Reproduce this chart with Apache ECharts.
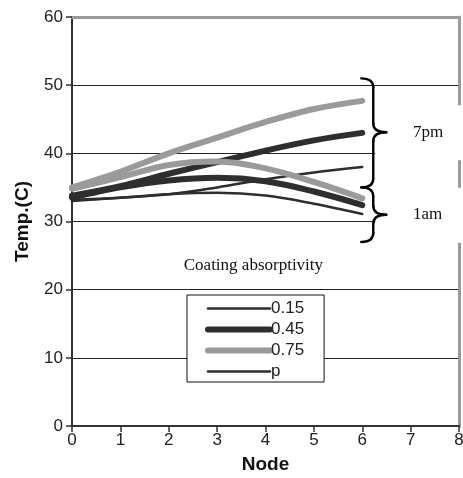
<!DOCTYPE html>
<html>
<head>
<meta charset="utf-8">
<script src="https://cdn.jsdelivr.net/npm/echarts@6/dist/echarts.min.js"></script>
<style>
  html, body { margin: 0; padding: 0; background: #fff; }
  #main { width: 463px; height: 478px; }
</style>
</head>
<body>
<div id="main"></div>
<script>
// node positions along the x axis
let nodes = [0, 1, 2, 3, 4, 5, 6];
let xTicks = [0, 1, 2, 3, 4, 5, 6, 7, 8];
let yTicks = [0, 10, 20, 30, 40, 50, 60];

// 7pm curves
let pm015 = [33.2, 33.5, 34.0, 35.0, 36.2, 37.2, 38.0];
let pm045 = [33.8, 35.2, 37.0, 38.7, 40.4, 41.9, 43.0];
let pm075 = [35.0, 37.3, 40.0, 42.3, 44.6, 46.5, 47.7];
// 1am curves
let am015 = [33.0, 33.5, 34.0, 34.2, 33.8, 32.6, 31.1];
let am045 = [33.5, 35.0, 36.0, 36.4, 35.9, 34.4, 32.4];
let am075 = [34.8, 36.5, 38.3, 38.8, 37.8, 35.8, 33.4];

let legendNames = ['0.15', '0.45', '0.75', 'p'];
let legendWidths = [2.5, 6, 6, 2.5];

// braces: [label, top, tip, bottom] in temperature units, drawn at node 6
let braces = [
    ['7pm', 51.0, 43.1, 35.0],
    ['1am', 35.0, 31.0, 27.0]
];

const DARK = '#2e2e2e';
const GRAY = '#9a9a9a';

function pairs(ys) {
    return nodes.map(function (x, i) { return [x, ys[i]]; });
}

function lineSeries(name, ys, color, width) {
    return {
        name: name,
        type: 'line',
        data: ys ? pairs(ys) : [],
        smooth: 0.35,
        symbol: 'none',
        showSymbol: false,
        silent: true,
        lineStyle: { color: color, width: width, cap: 'round', join: 'round' },
        itemStyle: { color: color }
    };
}

let chart = echarts.init(document.getElementById('main'));

let option = {
    animation: false,
    backgroundColor: '#fff',
    grid: { left: 72, right: 4, top: 17, bottom: 52, containLabel: false, outerBoundsMode: 'none' },
    legend: {
        data: legendNames.map(function (n, i) {
            return { name: n, lineStyle: { width: legendWidths[i], cap: 'round' } };
        }),
        orient: 'vertical',
        left: 187,
        top: 295,
        itemWidth: 62,
        itemHeight: 14,
        itemGap: 4,
        padding: [5, 20, 2, 18],
        backgroundColor: '#fff',
        borderColor: '#111',
        borderWidth: 1,
        selectedMode: false,
        itemStyle: { opacity: 0 },
        textStyle: {
            fontFamily: 'Liberation Sans',
            fontSize: 17,
            lineHeight: 16,
            color: '#222',
            padding: [0, 0, 0, -4]
        },
        z: 20
    },
    xAxis: [{
        type: 'value',
        min: 0,
        max: 8,
        interval: 1,
        name: 'Node',
        nameLocation: 'middle',
        nameGap: 29,
        nameTextStyle: { fontFamily: 'Liberation Sans', fontSize: 19, fontWeight: 'bold', color: '#111' },
        axisLine: { onZero: false, lineStyle: { color: '#333', width: 2 } },
        axisTick: { length: 6, lineStyle: { color: '#333', width: 1.5 } },
        axisLabel: {
            margin: 6,
            fontFamily: 'Liberation Sans', fontSize: 17, color: '#222',
            formatter: function (v) { return xTicks.indexOf(v) >= 0 ? String(v) : ''; }
        },
        splitLine: { show: false }
    }, {
        type: 'value',
        position: 'top',
        min: 0,
        max: 8,
        axisLine: { show: true, onZero: false, lineStyle: { color: GRAY, width: 3 } },
        axisTick: { show: false },
        axisLabel: { show: false },
        splitLine: { show: false }
    }],
    yAxis: [{
        type: 'value',
        min: 0,
        max: 60,
        interval: 10,
        name: 'Temp.(C)',
        nameLocation: 'middle',
        nameGap: 40,
        nameTextStyle: { fontFamily: 'Liberation Sans', fontSize: 19, fontWeight: 'bold', color: '#111' },
        axisLine: { show: true, onZero: false, lineStyle: { color: '#333', width: 2 } },
        axisTick: { show: true, length: 6, lineStyle: { color: '#333', width: 1.5 } },
        axisLabel: {
            margin: 9,
            fontFamily: 'Liberation Sans', fontSize: 17, color: '#222',
            formatter: function (v) { return yTicks.indexOf(v) >= 0 ? String(v) : ''; }
        },
        splitLine: { show: true, lineStyle: { color: '#222', width: 1 } }
    }, {
        type: 'value',
        position: 'right',
        min: 0,
        max: 60,
        axisLine: { show: true, onZero: false, lineStyle: { color: GRAY, width: 3 } },
        axisTick: { show: false },
        axisLabel: { show: false },
        splitLine: { show: false }
    }],
    series: [
        lineSeries('0.15', pm015, DARK, 2.5),
        lineSeries('0.15', am015, DARK, 2.5),
        lineSeries('p', null, DARK, 2.5),
        lineSeries('0.45', am045, DARK, 6),
        lineSeries('0.45', pm045, DARK, 6),
        lineSeries('0.75', am075, GRAY, 6),
        lineSeries('0.75', pm075, GRAY, 6)
    ]
};

chart.setOption(option);

// braces and their labels, placed with the chart's own scales
function braceGroup(b) {
    let top = chart.convertToPixel({ gridIndex: 0 }, [6, b[1]]);
    let tip = chart.convertToPixel({ gridIndex: 0 }, [6, b[2]]);
    let bot = chart.convertToPixel({ gridIndex: 0 }, [6, b[3]]);
    let x0 = top[0] - 1, x1 = x0 + 12, x2 = x1 + 13;
    let yT = top[1], yM = tip[1], yB = bot[1], r = 9;
    let st = { stroke: '#000', lineWidth: 2.4, fill: null, lineCap: 'round' };
    return [
        { type: 'rect', shape: { x: x1 + 2, y: yM - 27, width: 463 - x1 - 2, height: 55 }, style: { fill: '#fff' }, z: 30 },
        { type: 'text', x: 413, y: yM, z: 31,
          style: { text: b[0], font: '17px "Liberation Serif"', fill: '#111', verticalAlign: 'middle' } },
        { type: 'bezierCurve', shape: { x1: x0, y1: yT, x2: x1, y2: yT + r, cpx1: x1, cpy1: yT }, style: st, z: 30 },
        { type: 'line', shape: { x1: x1, y1: yT + r, x2: x1, y2: yM - r }, style: st, z: 30 },
        { type: 'bezierCurve', shape: { x1: x1, y1: yM - r, x2: x2, y2: yM, cpx1: x1, cpy1: yM }, style: st, z: 30 },
        { type: 'bezierCurve', shape: { x1: x2, y1: yM, x2: x1, y2: yM + r, cpx1: x1, cpy1: yM }, style: st, z: 30 },
        { type: 'line', shape: { x1: x1, y1: yM + r, x2: x1, y2: yB - r }, style: st, z: 30 },
        { type: 'bezierCurve', shape: { x1: x1, y1: yB - r, x2: x0, y2: yB, cpx1: x1, cpy1: yB }, style: st, z: 30 }
    ];
}

let capPos = chart.convertToPixel({ gridIndex: 0 }, [3.75, 23.5]);
let elements = [{
    type: 'text', x: capPos[0], y: capPos[1], z: 30,
    style: { text: 'Coating absorptivity', font: '17px "Liberation Serif"', fill: '#111', align: 'center', verticalAlign: 'middle' }
}];
braces.forEach(function (b) { elements = elements.concat(braceGroup(b)); });

chart.setOption({ graphic: { elements: elements } });
</script>
</body>
</html>
